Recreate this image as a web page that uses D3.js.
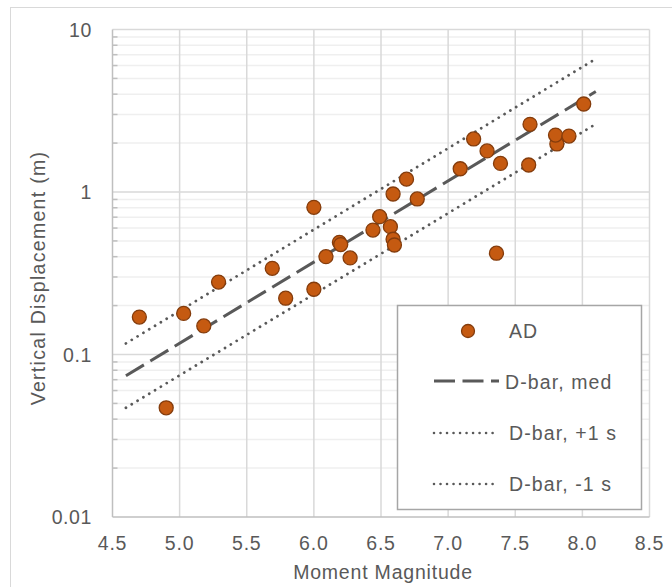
<!DOCTYPE html>
<html>
<head>
<meta charset="utf-8">
<script src="https://cdn.jsdelivr.net/npm/d3@7"></script>
<style>
  html, body { margin: 0; padding: 0; background: #fff; }
  svg { display: block; }
  text { font-family: "Liberation Sans", Arial, sans-serif; fill: #595959; }
</style>
</head>
<body>
<svg id="chart" width="672" height="587"></svg>
<script>
// Average vertical displacement (AD) against moment magnitude
const magnitudes = [4.70, 4.90, 5.03, 5.18, 5.29, 5.69, 5.79, 6.00, 6.00, 6.09,
                    6.19, 6.20, 6.27, 6.44, 6.49, 6.57, 6.59, 6.60, 6.59, 6.69,
                    6.77, 7.09, 7.19, 7.29, 7.39, 7.36, 7.60, 7.61, 7.81, 7.80,
                    7.90, 8.01];
const displacements = [0.170, 0.047, 0.179, 0.150, 0.279, 0.339, 0.222, 0.805, 0.252, 0.400,
                       0.490, 0.475, 0.393, 0.583, 0.705, 0.612, 0.512, 0.472, 0.972, 1.20,
                       0.906, 1.39, 2.12, 1.79, 1.50, 0.420, 1.466, 2.61, 1.975, 2.24,
                       2.21, 3.48];

// D-bar regression lines, evaluated at their two end magnitudes
const lineMagnitudes = [4.6, 8.1];
const dbarMedian = [0.074, 4.15];
const dbarPlus1s = [0.117, 6.60];
const dbarMinus1s = [0.047, 2.62];

// Axis ticks
const xTicks = [4.5, 5.0, 5.5, 6.0, 6.5, 7.0, 7.5, 8.0, 8.5];
const yTicks = [0.01, 0.1, 1, 10];
const yTickLabels = ["0.01", "0.1", "1", "10"];

const legendLabels = ["AD", "D-bar, med", "D-bar, +1 s", "D-bar, -1 s"];

const svg = d3.select("#chart");

const x = d3.scaleLinear().domain([4.5, 8.5]).range([112.5, 649.5]);
const y = d3.scaleLog().domain([0.01, 10]).range([517, 29.5]);

const gridMajor = "#d9d9d9";
const gridMinor = "#efefef";
const axisColor = "#bfbfbf";
const lineColor = "#595959";
const markFill = "#c55a11";
const markStroke = "#843c0c";

// Outer chart frame
svg.append("rect")
  .attr("x", 10.5).attr("y", 7.5)
  .attr("width", 700).attr("height", 620)
  .attr("fill", "none").attr("stroke", "#d9d9d9").attr("stroke-width", 1);

// Minor horizontal gridlines (2..9 within each decade)
const minorValues = [];
[0.01, 0.1, 1].forEach(d => { for (let k = 2; k <= 9; k++) minorValues.push(d * k); });
svg.append("g").selectAll("line").data(minorValues).join("line")
  .attr("x1", x(4.5)).attr("x2", x(8.5))
  .attr("y1", d => y(d)).attr("y2", d => y(d))
  .attr("stroke", gridMinor).attr("stroke-width", 1.5);

// Major horizontal gridlines
svg.append("g").selectAll("line").data(yTicks.slice(1)).join("line")
  .attr("x1", x(4.5)).attr("x2", x(8.5))
  .attr("y1", d => y(d)).attr("y2", d => y(d))
  .attr("stroke", gridMajor).attr("stroke-width", 1.5);

// Vertical gridlines
svg.append("g").selectAll("line").data(xTicks.slice(1)).join("line")
  .attr("x1", d => x(d)).attr("x2", d => x(d))
  .attr("y1", y(10)).attr("y2", y(0.01))
  .attr("stroke", gridMajor).attr("stroke-width", 1.5);

// Axis lines
svg.append("line")
  .attr("x1", x(4.5)).attr("x2", x(4.5)).attr("y1", y(10)).attr("y2", y(0.01))
  .attr("stroke", axisColor).attr("stroke-width", 1.5);
svg.append("line")
  .attr("x1", x(4.5)).attr("x2", x(8.5)).attr("y1", y(0.01)).attr("y2", y(0.01))
  .attr("stroke", axisColor).attr("stroke-width", 1.5);

// Minor tick marks on the value axis
svg.append("g").selectAll("line").data(minorValues).join("line")
  .attr("x1", x(4.5)).attr("x2", x(4.5) + 5)
  .attr("y1", d => y(d)).attr("y2", d => y(d))
  .attr("stroke", axisColor).attr("stroke-width", 1.5);

// Tick labels
svg.append("g").selectAll("text").data(xTicks).join("text")
  .attr("x", d => x(d)).attr("y", 550)
  .attr("text-anchor", "middle")
  .attr("font-size", 19.5).attr("letter-spacing", 0.8)
  .text(d => d.toFixed(1));

svg.append("g").selectAll("text").data(yTicks).join("text")
  .attr("x", 92).attr("y", d => y(d) + 7)
  .attr("text-anchor", "end")
  .attr("font-size", 19.5).attr("letter-spacing", 0.6)
  .text((d, i) => yTickLabels[i]);

// Axis titles
svg.append("text")
  .attr("x", 383).attr("y", 579)
  .attr("text-anchor", "middle")
  .attr("font-size", 19.5).attr("letter-spacing", 0.8)
  .text("Moment Magnitude");

svg.append("text")
  .attr("transform", "translate(45,278) rotate(-90)")
  .attr("text-anchor", "middle")
  .attr("font-size", 19.5).attr("letter-spacing", 1.3)
  .text("Vertical Displacement (m)");

// D-bar lines
const line = d3.line().x(d => x(d[0])).y(d => y(d[1]));
const lineSeries = [
  { values: dbarPlus1s, dash: "0.01,6.8", cap: "round", width: 2.8 },
  { values: dbarMinus1s, dash: "0.01,6.8", cap: "round", width: 2.8 },
  { values: dbarMedian, dash: "21,7.5", cap: "butt", width: 3 }
];
svg.append("g").selectAll("path").data(lineSeries).join("path")
  .attr("d", s => line(lineMagnitudes.map((m, i) => [m, s.values[i]])))
  .attr("fill", "none")
  .attr("stroke", lineColor)
  .attr("stroke-width", s => s.width)
  .attr("stroke-linecap", s => s.cap)
  .attr("stroke-dasharray", s => s.dash);

// AD markers
svg.append("g").selectAll("circle").data(magnitudes).join("circle")
  .attr("cx", d => x(d))
  .attr("cy", (d, i) => y(displacements[i]))
  .attr("r", 7)
  .attr("fill", markFill)
  .attr("stroke", markStroke)
  .attr("stroke-width", 1.3);

// Legend
const lg = svg.append("g");
lg.append("rect")
  .attr("x", 397.5).attr("y", 305.5).attr("width", 244).attr("height", 204)
  .attr("fill", "#fff").attr("stroke", "#a6a6a6").attr("stroke-width", 1.5);

lg.append("circle")
  .attr("cx", 468).attr("cy", 331).attr("r", 6.5)
  .attr("fill", markFill).attr("stroke", markStroke).attr("stroke-width", 1.3);

const legendRows = [
  { y: 381, dash: "21,7.5", cap: "butt", width: 3 },
  { y: 433, dash: "0.01,6.5", cap: "round", width: 2.6 },
  { y: 484, dash: "0.01,6.5", cap: "round", width: 2.6 }
];
lg.selectAll("line.sample").data(legendRows).join("line")
  .attr("class", "sample")
  .attr("x1", 434).attr("x2", 499)
  .attr("y1", d => d.y).attr("y2", d => d.y)
  .attr("stroke", lineColor)
  .attr("stroke-width", d => d.width)
  .attr("stroke-linecap", d => d.cap)
  .attr("stroke-dasharray", d => d.dash);

const legendTextPos = [[509, 338], [505, 389], [509, 440], [509, 491]];
lg.selectAll("text").data(legendLabels).join("text")
  .attr("x", (d, i) => legendTextPos[i][0])
  .attr("y", (d, i) => legendTextPos[i][1])
  .attr("font-size", 19.5).attr("letter-spacing", 1.1)
  .text(d => d);
</script>
</body>
</html>
